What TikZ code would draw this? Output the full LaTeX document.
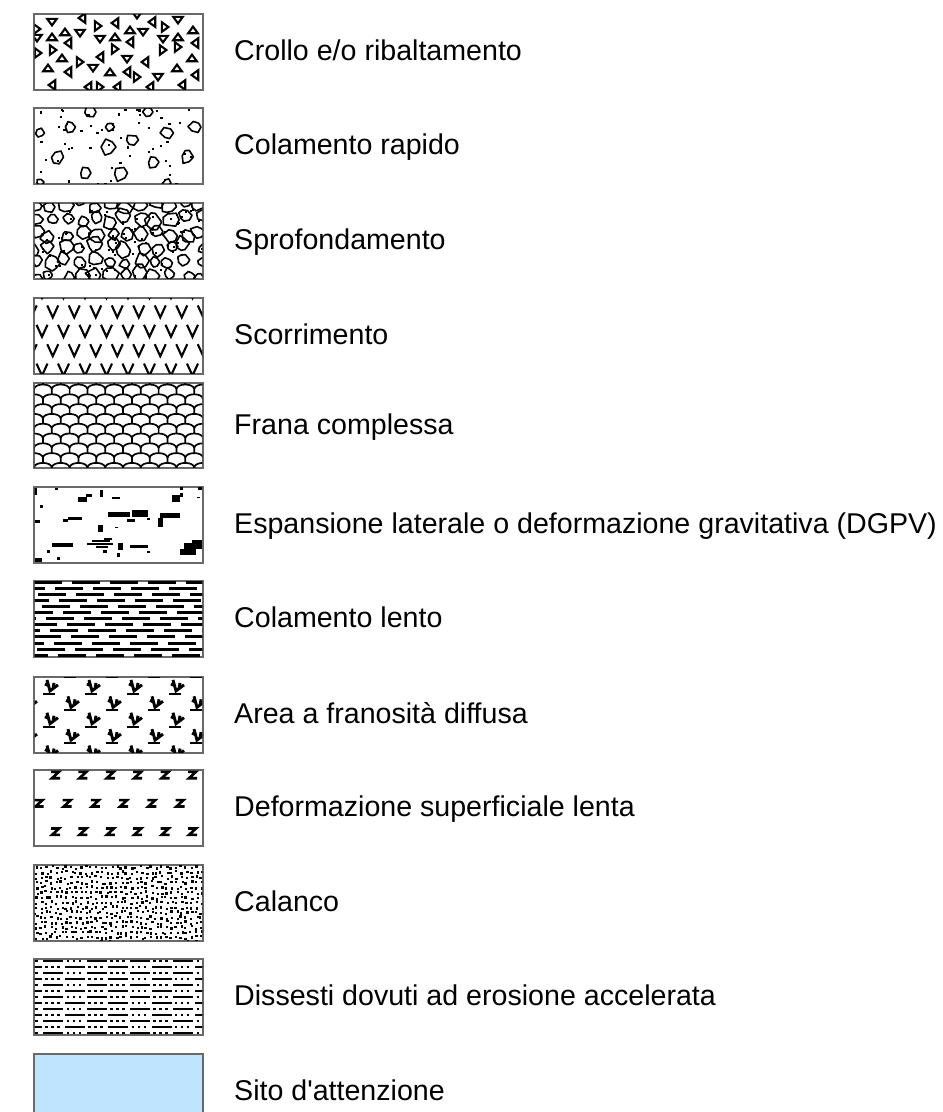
\documentclass[tikz,border=0pt]{standalone}
\usepackage{fontspec}
\setmainfont{Liberation Sans}
\usetikzlibrary{positioning}
\definecolor{sitoblue}{RGB}{191,229,254}
\definecolor{boxgray}{RGB}{105,105,105}

\begin{document}
\begin{tikzpicture}[x=1pt, y=-1pt, node distance=31pt,
        legbox/.style={draw=boxgray, line width=1.4pt, minimum width=169pt, minimum height=76pt, inner sep=0pt, outer sep=0pt},
        legtext/.style={inner sep=0pt, text height=17pt, text depth=0pt, font=\fontsize{28.6}{34}\selectfont},
        tri/.style={line width=2.1pt, line join=miter},
        peb/.style={line width=1.6pt, line join=round},
        vmark/.style={line width=2.1pt},
        franaline/.style={line width=1.7pt},
        lentoline/.style={line width=3pt, dash pattern=on 28pt off 10pt},
        zmark/.style={line width=2.6pt, line join=miter},
        tuft/.style={line width=2.9pt}]
        \useasboundingbox (0,0) rectangle (943,1112);
        \pgfmathsetseed{11}

        % legend boxes
        \node [legbox] (crollo) at (118.5,52) {};
        \node [legbox] (rapido) at (118.5,146) {};
        \node [legbox] (sprof) at (118.5,241) {};
        \node [legbox] (scorr) at (118.5,336) {};
        \node [legbox, minimum height=85pt] (frana) at (118.5,425.5) {};
        \node [legbox] (espans) at (118.5,525) {};
        \node [legbox] (lento) at (118.5,619) {};
        \node [legbox] (diffusa) at (118.5,715) {};
        \node [legbox] (deform) at (118.5,808) {};
        \node [legbox] (calanco) at (118.5,903) {};
        \node [legbox] (erosione) at (118.5,997) {};
        \node [legbox, fill=sitoblue] (sito) at (118.5,1092) {};

        % labels
        \node (crollotxt) [legtext, right=of crollo] {Crollo e/o ribaltamento};
        \node (rapidotxt) [legtext, right=of rapido] {Colamento rapido};
        \node (sproftxt) [legtext, right=of sprof] {Sprofondamento};
        \node (scorrtxt) [legtext, right=of scorr] {Scorrimento};
        \node (franatxt) [legtext, right=of frana] {Frana complessa};
        \node (espanstxt) [legtext, right=of espans] {Espansione laterale o deformazione gravitativa (DGPV)};
        \node (lentotxt) [legtext, right=of lento] {Colamento lento};
        \node (diffusatxt) [legtext, right=of diffusa] {Area a franosità diffusa};
        \node (deformtxt) [legtext, right=of deform] {Deformazione superficiale lenta};
        \node (calancotxt) [legtext, right=of calanco] {Calanco};
        \node (erosionetxt) [legtext, right=of erosione] {Dissesti dovuti ad erosione accelerata};
        \node (sitotxt) [legtext, right=of sito] {Sito d\textquotesingle attenzione};

        % crollo: triangles
        \begin{scope}[shift={(crollo.north west)}]
            \clip (0.7,0.7) rectangle (168.3,75.3);
            \foreach \x/\y/\a in {18/8/0, 48/4/270, 144/6/0, 3/15/90, 31/18/180, 46/19/0, 64/12/90, 81/9/270,
                    96/16/180, 109/18/0, 118/8/270, 131/13/90, 159/16/180, 3/24/0, 18/23/180, 34/29/270,
                    66/25/0, 81/23/180, 96/28/270, 129/25/0, 144/23/180, 161/29/270, 4/39/90, 19/36/90,
                    28/44/180, 46/48/90, 66/43/270, 81/35/90, 93/45/0, 111/48/270, 129/36/90, 144/33/90,
                    158/44/180, 14/54/180, 34/58/270, 59/54/0, 76/58/180, 93/58/270, 103/63/90, 124/63/0,
                    143/54/180, 161/61/270, 18/71/270, 54/73/270, 66/73/90, 83/73/270, 116/73/270,
                    148/71/270, 103/1/0}
                \draw [tri, shift={(\x,\y)}, rotate=\a] (-4.8,-3.2) -- (4.8,-3.2) -- (0,3.4) -- cycle;
        \end{scope}

        % colamento rapido: pebbles and dots
        \begin{scope}[shift={(rapido.north west)}]
            \clip (0.7,0.7) rectangle (168.3,75.3);
            \foreach \x/\y/\r in {56/4/6, 6/25/4.5, 36/19/5.5, 76/19/4.5, 74/39/8, 98/32/6.5, 133/25/6.5,
                    23/49/6.5, 161/19/6, 119/54/6, 153/49/6.5, 51/65/6, 86/65/7.5, 114/4/5, 6/74/4, 133/75/4}
                \draw [peb, shift={(\x,\y)}] (0:\r) \foreach \a in {60,120,...,300} {-- ({\a+24*rnd-12}:{\r*(0.7+0.5*rnd)})} -- cycle;
            \foreach \i in {1,...,55}
                \fill ({169*rnd},{76*rnd}) rectangle ++(2.2,2.2);
        \end{scope}

        % sprofondamento: dense pebbles
        \begin{scope}[shift={(sprof.north west)}]
            \clip (0.7,0.7) rectangle (168.3,75.3);
            \foreach \i in {0,...,11}
                \foreach \j in {0,...,5} {
                    \pgfmathsetmacro\r{5+3.5*rnd}
                    \draw [peb, shift={({\i*15+8*rnd-2},{\j*14+8*rnd-2})}] (0:\r) \foreach \a in {50,100,...,300} {-- ({\a+20*rnd-10}:{\r*(0.65+0.55*rnd)})} -- cycle;
                }
            \foreach \i in {1,...,80}
                \fill ({169*rnd},{76*rnd}) rectangle ++(2,2);
        \end{scope}

        % scorrimento: rows of V
        \begin{scope}[shift={(scorr.north west)}]
            \clip (0.7,0.7) rectangle (168.3,75.3);
            \foreach \k in {0,...,4} {
                \pgfmathsetmacro\xo{8+10.75*mod(\k,2)}
                \foreach \n in {-1,...,8}
                    \draw [vmark] ({\xo+21.5*\n-5.5},{-6+19.4*\k-6}) -- ++(5.5,12) -- ++(5.5,-12);
            }
        \end{scope}

        % frana complessa: scales
        \begin{scope}[shift={(frana.north west)}]
            \clip (0.7,0.7) rectangle (168.3,84.3);
            \foreach \j in {-1,...,8} {
                \pgfmathsetmacro\xo{8.9*mod(\j+2,2)}
                \pgfmathsetmacro\yy{6+9.8*\j}
                \foreach \i in {-1,...,10}
                    \draw [franaline] ({\xo+17.8*\i},\yy) .. controls +(1,-6) and +(-1,-6) .. ++(17.8,0) -- ++(0,5.3);
            }
        \end{scope}

        % espansione laterale: scattered blots
        \begin{scope}[shift={(espans.north west)}]
            \clip (0.7,0.7) rectangle (168.3,75.3);
            \foreach \a/\b/\c/\d in {0/1/3/8, 21/1/24/3, 6/18/9/21, 44/10/53/15, 52/7/58/10, 66/3/69/10,
                    78/10/86/12, 138/8/146/15, 146/6/149/10, 146/0/149/3, 163/10/166/11, 164/0/168/3,
                    34/30/48/33, 29/32/34/35, 1/33/6/36, 74/25/96/30, 98/23/114/30, 93/32/101/35,
                    126/26/146/31, 124/31/129/40, 113/31/116/33, 64/38/69/45, 81/40/84/41,
                    18/56/39/60, 13/63/16/66, 53/56/79/58, 58/53/76/55, 62/59/74/61, 70/51/78/53,
                    84/56/89/63, 96/58/114/61, 113/64/116/66, 150/56/168/62, 146/62/162/68,
                    158/53/168/57, 83/66/86/70, 1/71/8/75, 23/70/26/73, 69/63/73/66}
                \fill (\a,\b) rectangle (\c,\d);
        \end{scope}

        % colamento lento: dashed rows
        \begin{scope}[shift={(lento.north west)}]
            \clip (0.7,0.7) rectangle (168.3,75.3);
            \foreach \k in {0,...,12} {
                \pgfmathsetmacro\ph{mod(\k*17,38)}
                \draw [lentoline] ({-\ph},{1.7+6.03*\k}) -- (200,{1.7+6.03*\k});
            }
        \end{scope}

        % area a franosita diffusa: tufts
        \begin{scope}[shift={(diffusa.north west)}]
            \clip (0.7,0.7) rectangle (168.3,75.3);
            \foreach \k in {0,...,5} {
                \pgfmathsetmacro\xo{37-21*mod(\k,2)}
                \foreach \n in {-1,...,4} {
                    \draw [tuft, shift={({\xo+42*\n},{0.5+16.4*\k})}] (-3,-14) -- (0,-3) -- (8,-9) (-1,-8) -- (-5,-10) (3,-5) -- (4,-11);
                    \draw [line width=1.8pt, shift={({\xo+42*\n},{0.5+16.4*\k})}] (-7,0) -- (5,0);
                }
            }
        \end{scope}

        % deformazione superficiale lenta: z marks
        \begin{scope}[shift={(deform.north west)}]
            \clip (0.7,0.7) rectangle (168.3,75.3);
            \foreach \y in {5,61.7}
                \foreach \n in {0,...,5}
                    \draw [zmark] ({21+27.4*\n-4},{\y-3.2}) -- ++(8,0) -- ++(-7,6.4) -- ++(8,0);
            \foreach \n in {0,...,5}
                \draw [zmark] ({4.5+28.2*\n-4},30.1) -- ++(8,0) -- ++(-7,6.4) -- ++(8,0);
        \end{scope}

        % calanco: dots
        \begin{scope}[shift={(calanco.north west)}]
            \clip (0.7,0.7) rectangle (168.3,75.3);
            \foreach \i in {0,...,33}
                \foreach \j in {0,...,15}
                    \fill ({\i*5+3*rnd},{\j*5+3*rnd}) rectangle ++(2.3,2.3);
        \end{scope}

        % dissesti: dashes and dots
        \begin{scope}[shift={(erosione.north west)}]
            \clip (0.7,0.7) rectangle (168.3,75.3);
            \foreach \k in {0,...,12} {
                \pgfmathsetmacro\sx{9.3+21.65*mod(\k,2)}
                \foreach \n in {-1,...,4} {
                    \fill ({\sx+43.3*\n},{2+6*\k-1.3}) rectangle ++(20,2.6);
                    \foreach \d in {0,6,12}
                        \fill ({\sx+43.3*\n+23.3+\d},{2+6*\k-1.3}) rectangle ++(2.6,2.6);
                }
            }
        \end{scope}
    \end{tikzpicture}
\end{document}
